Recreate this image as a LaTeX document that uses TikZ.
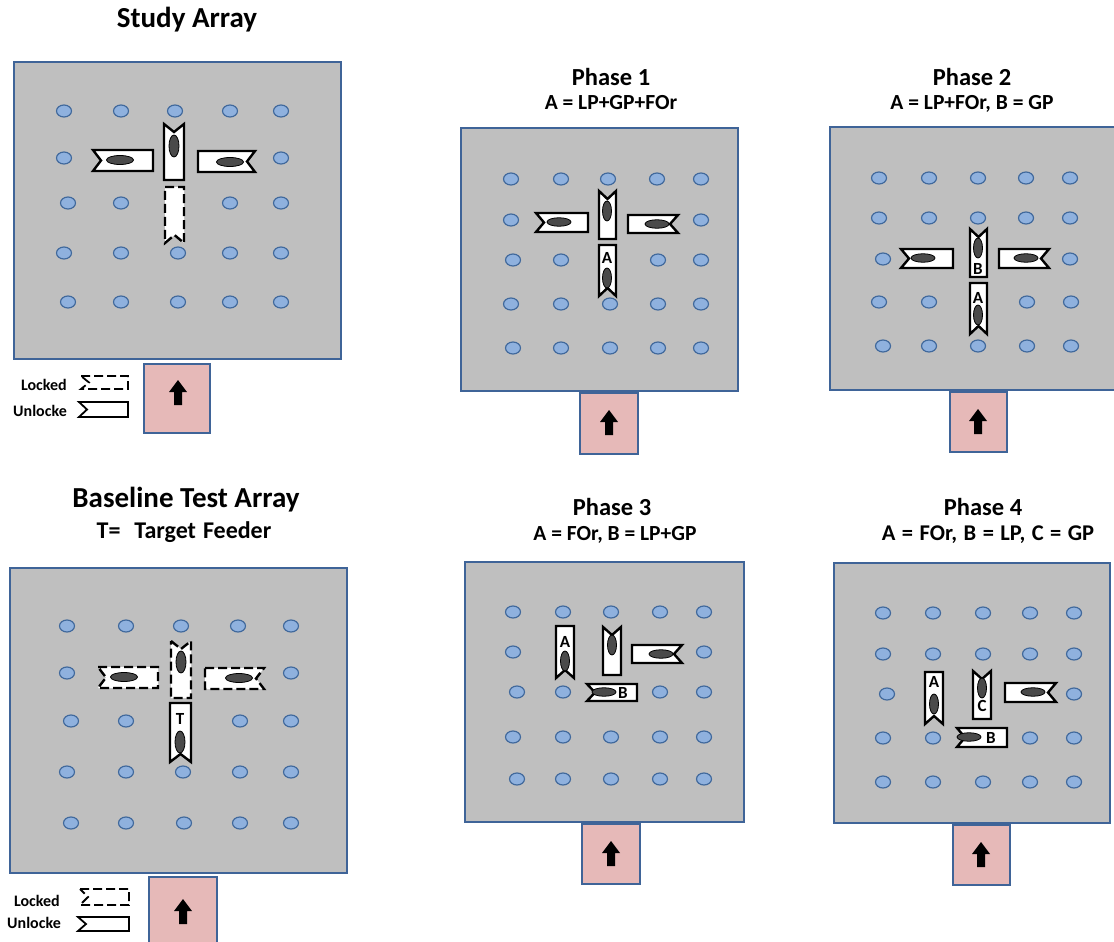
\documentclass[tikz,border=0pt]{standalone}
\usepackage{fontspec}
\setmainfont{Carlito}
\usetikzlibrary{positioning,shapes.geometric,calc}
\definecolor{board}   {HTML}{BFBFBF}
\definecolor{rim}     {HTML}{3F6498}
\definecolor{wellblue}{HTML}{8FB1DE}
\definecolor{wellrim} {HTML}{41699C}
\definecolor{mat}     {HTML}{E6B9B8}
\definecolor{bait}    {HTML}{4A4A4A}
\newcommand{\nd}{8}
% feeders: [opts]{x1}{y1}{x2}{y2}, notch on the named side
\newcommand{\fdrL}[5][]{\draw[fdr,#1] (#2,#3) -- (#4,#3) -- (#4,#5) -- (#2,#5) -- ({#2+\nd},{(#3+#5)/2}) -- cycle;}
\newcommand{\fdrR}[5][]{\draw[fdr,#1] (#2,#3) -- (#4,#3) -- ({#4-\nd},{(#3+#5)/2}) -- (#4,#5) -- (#2,#5) -- cycle;}
\newcommand{\fdrT}[5][]{\draw[fdr,#1] (#2,#3) -- ({(#2+#4)/2},{#3+\nd}) -- (#4,#3) -- (#4,#5) -- (#2,#5) -- cycle;}
\newcommand{\fdrB}[5][]{\draw[fdr,#1] (#2,#3) -- (#4,#3) -- (#4,#5) -- ({(#2+#4)/2},{#5-\nd}) -- (#2,#5) -- cycle;}
% start box arrow at centre x,y
\newcommand{\startarrow}[2]{\fill[black] ({#1-4},{#2+12}) -- ({#1-4},{#2-1}) -- ({#1-9},{#2-1}) -- (#1,{#2-13}) -- ({#1+9},{#2-1}) -- ({#1+4},{#2-1}) -- ({#1+4},{#2+12}) -- cycle;}
\tikzset{
  boardbox/.style = {draw=rim, fill=board, line width=1.4pt},
  startbox/.style = {draw=rim, fill=mat, line width=1.2pt},
  wellnode/.style = {ellipse, draw=wellrim, fill=wellblue, line width=1.2pt,
                     minimum width=15pt, minimum height=12pt, inner sep=0pt},
  fdr/.style      = {draw=black, fill=white, line width=2.4pt, line join=miter},
  locked/.style   = {dash pattern=on 9pt off 4pt},
  ovalH/.style    = {ellipse, draw=black, fill=bait, line width=0.8pt,
                     minimum width=24pt, minimum height=8.5pt, inner sep=0pt},
  ovalV/.style    = {ovalH, minimum width=9pt, minimum height=20pt},
  tag/.style      = {font=\fontsize{17}{17}\selectfont\bfseries, inner sep=0pt},
  ttl/.style      = {font=\fontsize{29}{29}\selectfont\bfseries, anchor=base, inner sep=0pt},
  phs/.style      = {font=\fontsize{24.5}{24.5}\selectfont\bfseries, anchor=base, inner sep=0pt},
  sub/.style      = {font=\fontsize{21.5}{21.5}\selectfont\bfseries, anchor=base, inner sep=0pt},
  key/.style      = {font=\fontsize{16}{16}\selectfont\bfseries, anchor=east, inner sep=0pt},
}
\begin{document}
\begin{tikzpicture}[x=1pt,y=-1pt]
  \useasboundingbox (0,0) rectangle (1114,942);

  % ---------- Study Array
  \node[ttl] (t-study) at (187,28) {Study Array};
  \draw[boardbox] (14,62) rectangle (341,359);
  \foreach \y/\xs in {111/{64,121,175,230,281},158/{64,281},203/{68,121,230,281},
                      253/{64,121,178,230,281},302/{68,121,178,230,281}}
    \foreach \x in \xs \node[wellnode] (s-\x-\y) at (\x,\y) {};
  \fdrL{93}{150}{153}{171}
  \node[ovalH, minimum width=27pt, minimum height=9pt] (s-lp) at (120,160) {};
  \fdrT{164}{124}{184}{180}
  \node[ovalV, minimum width=10pt, minimum height=22pt] (s-gp) at (174,146) {};
  \fdrR{198}{151}{255}{172}
  \node[ovalH, minimum width=27pt, minimum height=9pt] (s-for) at (230,162) {};
  \fdrB[locked]{165}{187}{184}{243}
  \draw[startbox] (144,364) rectangle (210,433);
  \startarrow{178}{393}
  \node[key] (s-k1) at (67,385) {Locked};
  \node[key] (s-k2) at (67,411) {Unlocke};
  \fdrL[locked,line width=1.8pt]{81}{376}{128}{389}
  \fdrL[line width=1.8pt]{79}{402}{128}{417}

  % ---------- Phase 1
  \node[phs] (t-p1) at (611,85) {Phase 1};
  \node[sub] (u-p1) at (611,110) {A = LP+GP+FOr};
  \draw[boardbox] (461,128) rectangle (738,391);
  \foreach \y/\xs in {179/{511,561,608,657,701},220/{511,701},260/{513,561,658,701},
                      304/{511,561,610,658,701},348/{513,561,610,658,701}}
    \foreach \x in \xs \node[wellnode] (a-\x-\y) at (\x,\y) {};
  \fdrL{536}{213}{588}{232}
  \node[ovalH] (a-lp) at (559,222) {};
  \fdrT{599}{191}{616}{239}
  \node[ovalV] (a-gp) at (607,211) {};
  \fdrR{628}{215}{678}{233}
  \node[ovalH] (a-for) at (657,224) {};
  \fdrB{599}{245}{616}{296}
  \node[tag] (a-A) at (607,258) {A};
  \node[ovalV] (a-t) at (607,278) {};
  \draw[startbox] (580,393) rectangle (638,454);
  \startarrow{609}{423}

  % ---------- Phase 2
  \node[phs] (t-p2) at (972,85) {Phase 2};
  \node[sub] (u-p2) at (972,110) {A = LP+FOr, B = GP};
  \draw[boardbox] (830,127) rectangle (1117,390);
  \foreach \y/\xs in {178/{879,929,978,1026,1070},218/{879,929,978,1026,1070},259/{883,1070},
                      302/{879,929,1027,1071},346/{883,929,978,1027,1071}}
    \foreach \x in \xs \node[wellnode] (b-\x-\y) at (\x,\y) {};
  \fdrL{901}{249}{953}{268}
  \node[ovalH] (b-lp) at (923,258) {};
  \fdrT{970}{229}{987}{277}
  \node[ovalV] (b-gp) at (978,248) {};
  \node[tag] (b-B) at (978,269) {B};
  \fdrR{999}{249}{1049}{268}
  \node[ovalH] (b-for) at (1026,258) {};
  \fdrB{970}{283}{987}{334}
  \node[tag] (b-A) at (978,298) {A};
  \node[ovalV] (b-t) at (978,315) {};
  \draw[startbox] (950,392) rectangle (1007,452);
  \startarrow{978}{422}

  % ---------- Baseline Test Array
  \node[ttl] (t-base) at (186,507) {Baseline Test Array};
  \node[sub, font=\fontsize{24}{24}\selectfont\bfseries] (u-base) at (184,538)
       {\spaceskip=7pt T=\hspace{14pt}Target Feeder};
  \draw[boardbox] (10,568) rectangle (347,873);
  \foreach \y/\xs in {626/{67,126,181,238,291},673/{67,291},721/{71,126,240,291},
                      772/{67,126,183,240,291},823/{71,126,184,240,291}}
    \foreach \x in \xs \node[wellnode] (c-\x-\y) at (\x,\y) {};
  \fdrL[locked]{98}{667}{158}{688}
  \node[ovalH, minimum width=27pt, minimum height=9pt] (c-lp) at (124,677) {};
  \fdrT[locked]{171}{641}{191}{698}
  \node[ovalV, minimum width=10pt, minimum height=22pt] (c-gp) at (181,662) {};
  \fdrR[locked]{205}{668}{264}{689}
  \node[ovalH, minimum width=27pt, minimum height=9pt] (c-for) at (239,678) {};
  \fdrB{170}{703}{191}{762}
  \node[tag] (c-T) at (180,719) {T};
  \node[ovalV, minimum width=10pt, minimum height=22pt] (c-t) at (180,742) {};
  \draw[startbox] (149,877) rectangle (217,950);
  \startarrow{183}{912}
  \node[key] (c-k1) at (60,901) {Locked};
  \node[key] (c-k2) at (61,923) {Unlocke};
  \fdrL[locked,line width=1.8pt]{80}{889}{129}{905}
  \fdrL[line width=1.8pt]{78}{917}{129}{931}

  % ---------- Phase 3
  \node[phs] (t-p3) at (612,515) {Phase 3};
  \node[sub] (u-p3) at (615,540) {A = FOr, B = LP+GP};
  \draw[boardbox] (465,562) rectangle (744,822);
  \foreach \y/\xs in {612/{513,563,611,660,704},652/{513,704},692/{517,563,660,704},
                      737/{513,563,611,660,704},779/{517,563,611,660,704}}
    \foreach \x in \xs \node[wellnode] (d-\x-\y) at (\x,\y) {};
  \fdrB{556}{626}{574}{678}
  \node[tag] (d-A) at (565,642) {A};
  \node[ovalV] (d-for) at (565,661) {};
  \fdrT{603}{627}{621}{675}
  \node[ovalV] (d-gp) at (612,645) {};
  \fdrR{632}{645}{682}{663}
  \node[ovalH] (d-x) at (661,654) {};
  \fdrL{587}{684}{637}{701}
  \node[ovalH] (d-lp) at (604,692) {};
  \node[tag] (d-B) at (623,693) {B};
  \draw[startbox] (582,824) rectangle (640,884);
  \startarrow{611}{854}

  % ---------- Phase 4
  \node[phs] (t-p4) at (983,515) {Phase 4};
  \node[sub, font=\fontsize{22.5}{22.5}\selectfont\bfseries] (u-p4) at (988,540)
       {\spaceskip=6.5pt A = FOr, B = LP, C = GP};
  \draw[boardbox] (834,563) rectangle (1110,823);
  \foreach \y/\xs in {613/{883,933,983,1030,1074},654/{883,933,983,1030,1074},694/{887,1074},
                      738/{883,933,1030,1074},782/{883,933,983,1030,1074}}
    \foreach \x in \xs \node[wellnode] (e-\x-\y) at (\x,\y) {};
  \fdrB{925}{672}{943}{724}
  \node[tag] (e-A) at (934,682) {A};
  \node[ovalV] (e-for) at (934,704) {};
  \fdrT{973}{671}{991}{719}
  \node[ovalV] (e-gp) at (982,688) {};
  \node[tag] (e-C) at (982,706) {C};
  \fdrR{1005}{683}{1056}{702}
  \node[ovalH] (e-x) at (1033,692) {};
  \fdrL{957}{728}{1007}{747}
  \node[ovalH] (e-lp) at (969,737) {};
  \node[tag] (e-B) at (991,738) {B};
  \draw[startbox] (953,825) rectangle (1010,885);
  \startarrow{981}{855}
\end{tikzpicture}
\end{document}
